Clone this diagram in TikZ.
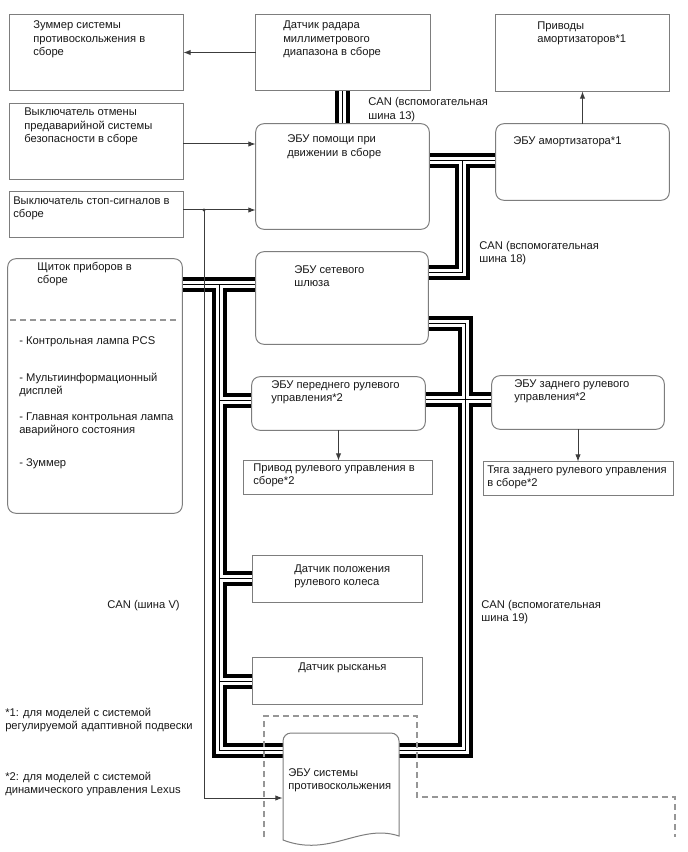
\documentclass[tikz,border=0pt]{standalone}
\usepackage{fontspec}
\setmainfont{Liberation Sans}
\usetikzlibrary{fit,arrows.meta}
\definecolor{boxgray}{RGB}{125,125,125}
\definecolor{dashgray}{RGB}{150,150,150}
\definecolor{txtc}{RGB}{25,25,25}
\definecolor{sigc}{RGB}{60,60,60}
\newcommand\dfont{\fontsize{8.4pt}{10.1pt}\selectfont}
\tikzset{
  box/.style={draw=boxgray, line width=0.75pt, fill=white, inner sep=0pt},
  rbox/.style={box, rounded corners=6pt},
  hidbox/.style={inner sep=0pt},
  txt/.style={anchor=base west, inner sep=0pt, align=left, font=\dfont, text=txtc},
  two/.style={yshift=-10.1pt},
  three/.style={yshift=-20.2pt},
  sig/.style={draw=sigc, line width=0.75pt, -{Latex[length=5.5pt,width=4pt]}},
  sigline/.style={draw=sigc, line width=0.75pt},
  dashline/.style={draw=dashgray, line width=0.9pt, dash pattern=on 4.5pt off 3pt},
}
\begin{document}
\begin{tikzpicture}[x=0.75pt,y=-0.75pt]
\useasboundingbox (0,0) rectangle (688,852);
\fill[white] (0,0) rectangle (688,852);

% placement nodes for boxes
\node[hidbox, fit={(10,15) (183,90)}] (zum) {};
\node[hidbox, fit={(256,15) (430,90)}] (radar) {};
\node[hidbox, fit={(496,15) (669,91)}] (shockact) {};
\node[hidbox, fit={(10,104) (183,179)}] (cancel) {};
\node[hidbox, fit={(10,192) (183,237)}] (stop) {};
\node[hidbox, fit={(256,124) (429,229)}] (help) {};
\node[hidbox, fit={(496,124) (669,200)}] (shockecu) {};
\node[hidbox, fit={(256,252) (428,344)}] (gateway) {};
\node[hidbox, fit={(8,259) (182,513)}] (cluster) {};
\node[hidbox, fit={(252,377) (425,430)}] (frontecu) {};
\node[hidbox, fit={(244,461) (432,494)}] (frontact) {};
\node[hidbox, fit={(492,376) (664,429)}] (rearecu) {};
\node[hidbox, fit={(484,462) (673,495)}] (reartie) {};
\node[hidbox, fit={(253,556) (422,602)}] (sas) {};
\node[hidbox, fit={(253,658) (422,704)}] (yaw) {};
\node[hidbox, fit={(283,733) (399,840)}] (abs) {};

% bus coordinates
\coordinate (b13) at (342,100);
\coordinate (b18) at (462,161);
\coordinate (b18c) at (462,272);
\coordinate (b19a) at (465,323);
\coordinate (b19b) at (465,399);
\coordinate (b19c) at (465,750);
\coordinate (bva) at (219,284);
\coordinate (bvb) at (219,750);
\coordinate (bv1) at (219,400);
\coordinate (bv2) at (219,578);
\coordinate (bv3) at (219,681);

% CAN buses: thick black, white gap, thin black core
\foreach \w/\c in {11.25pt/black, 5.25pt/white, 0.75pt/black}{
  \draw[line width=\w, draw=\c] (b13 |- radar.south) -- (b13 |- help.north);
  \draw[line width=\w, draw=\c] (help.east |- b18) -- (b18 -| shockecu.west);
  \draw[line width=\w, draw=\c] (b18) -- (b18c) -- (b18c -| gateway.east);
  \draw[line width=\w, draw=\c] (gateway.east |- b19a) -- (b19a) -- (b19c) -- (b19c -| abs.east);
  \draw[line width=\w, draw=\c] (frontecu.east |- b19b) -- (b19b -| rearecu.west);
  \draw[line width=\w, draw=\c] (cluster.east |- bva) -- (bva -| gateway.west);
  \draw[line width=\w, draw=\c] (bva) -- (bvb) -- (bvb -| abs.west);
  \draw[line width=\w, draw=\c] (bv1) -- (bv1 -| frontecu.west);
  \draw[line width=\w, draw=\c] (bv2) -- (bv2 -| sas.west);
  \draw[line width=\w, draw=\c] (bv3) -- (bv3 -| yaw.west);
}

% visible boxes
\draw[box] (zum.north west) rectangle (zum.south east);
\draw[box] (radar.north west) rectangle (radar.south east);
\draw[box] (shockact.north west) rectangle (shockact.south east);
\draw[box] (cancel.north west) rectangle (cancel.south east);
\draw[box] (stop.north west) rectangle (stop.south east);
\draw[rbox] (help.north west) rectangle (help.south east);
\draw[rbox] (shockecu.north west) rectangle (shockecu.south east);
\draw[rbox] (gateway.north west) rectangle (gateway.south east);
\draw[rbox] (cluster.north west) rectangle (cluster.south east);
\draw[rbox] (frontecu.north west) rectangle (frontecu.south east);
\draw[box] (frontact.north west) rectangle (frontact.south east);
\draw[rbox] (rearecu.north west) rectangle (rearecu.south east);
\draw[box] (reartie.north west) rectangle (reartie.south east);
\draw[box] (sas.north west) rectangle (sas.south east);
\draw[box] (yaw.north west) rectangle (yaw.south east);

% dashed separator in cluster
\coordinate (cl1) at (10,320);
\coordinate (cl2) at (180,320);
\draw[dashline] (cl1) -- (cl2);

% dashed outline around anti-skid ECU
\coordinate (d1) at (264,837);
\coordinate (d2) at (264,716);
\coordinate (d3) at (417,716);
\coordinate (d4) at (417,797);
\coordinate (d5) at (675,797);
\coordinate (d6) at (675,837);
\draw[dashline] (d1) -- (d2) -- (d3) -- (d4) -- (d5) -- (d6);

% document shape of anti-skid ECU
\draw[box] (283,840) -- (283,741) .. controls (283,736.6) and (286.6,733) .. (291,733)
   -- (391,733) .. controls (395.4,733) and (399,736.6) .. (399,741)
   -- (399,836) .. controls (360,823) and (330,858) .. (283,840) -- cycle;

% signal lines
\coordinate (stopj) at (204,210);
\coordinate (stopb) at (204,798);
\draw[sig] (radar.west) -- (radar.west -| zum.east);
\draw[sig] (cancel.east |- 0,144) -- (help.west |- 0,144);
\draw[sig] (stop.east |- stopj) -- (stopj -| help.west);
\draw[sigline] (stopj) -- (stopb);
\draw[sig] (stopb) -- (stopb -| abs.west);
\fill[sigc] (stopj) circle (1.6);
\draw[sig] (shockecu.north) -- (shockact.south);
\draw[sig] (frontecu.south) -- (frontecu.south |- frontact.north);
\draw[sig] (rearecu.south) -- (rearecu.south |- reartie.north);

% texts (position = baseline of first line)
\node[txt, three] (t-zum) at (33,29) {Зуммер системы\\противоскольжения в\\сборе};
\node[txt, three] (t-radar) at (283,29) {Датчик радара\\миллиметрового\\диапазона в сборе};
\node[txt, two] (t-shockact) at (537,29.5) {Приводы\\амортизаторов*1};
\node[txt, three] (t-cancel) at (24,116) {Выключатель отмены\\предаварийной системы\\безопасности в сборе};
\node[txt, two] (t-stop) at (13,204) {Выключатель стоп-сигналов в\\сборе};
\node[txt, two] (t-help) at (287,143) {ЭБУ помощи при\\движении в сборе};
\node[txt] (t-shockecu) at (513,145) {ЭБУ амортизатора*1};
\node[txt, two] (t-can13) at (368,106) {CAN (вспомогательная\\шина 13)};
\node[txt, two] (t-can18) at (479,249) {CAN (вспомогательная\\шина 18)};
\node[txt, two] (t-gateway) at (294,273) {ЭБУ сетевого\\шлюза};
\node[txt, two] (t-cluster) at (37,270) {Щиток приборов в\\сборе};
\node[txt] (t-l1) at (19,344) {- Контрольная лампа PCS};
\node[txt, two] (t-l2) at (19,381) {- Мультиинформационный\\дисплей};
\node[txt, two] (t-l3) at (19,420) {- Главная контрольная лампа\\аварийного состояния};
\node[txt] (t-l4) at (19,466) {- Зуммер};
\node[txt, two] (t-frontecu) at (271,388) {ЭБУ переднего рулевого\\управления*2};
\node[txt, two] (t-frontact) at (253,471) {Привод рулевого управления в\\сборе*2};
\node[txt, two] (t-rearecu) at (514,387) {ЭБУ заднего рулевого\\управления*2};
\node[txt, two] (t-reartie) at (487,473) {Тяга заднего рулевого управления\\в сборе*2};
\node[txt, two] (t-sas) at (294,572) {Датчик положения\\рулевого колеса};
\node[txt] (t-yaw) at (298,670) {Датчик рысканья};
\node[txt, two] (t-abs) at (288,776) {ЭБУ системы\\противоскольжения};
\node[txt] (t-canv) at (107,608) {CAN (шина V)};
\node[txt, two] (t-can19) at (481,608) {CAN (вспомогательная\\шина 19)};
\node[txt, two] (t-n1) at (5,716) {*1: для моделей с системой\\регулируемой адаптивной подвески};
\node[txt, two] (t-n2) at (5,780) {*2: для моделей с системой\\динамического управления Lexus};
\end{tikzpicture}
\end{document}
